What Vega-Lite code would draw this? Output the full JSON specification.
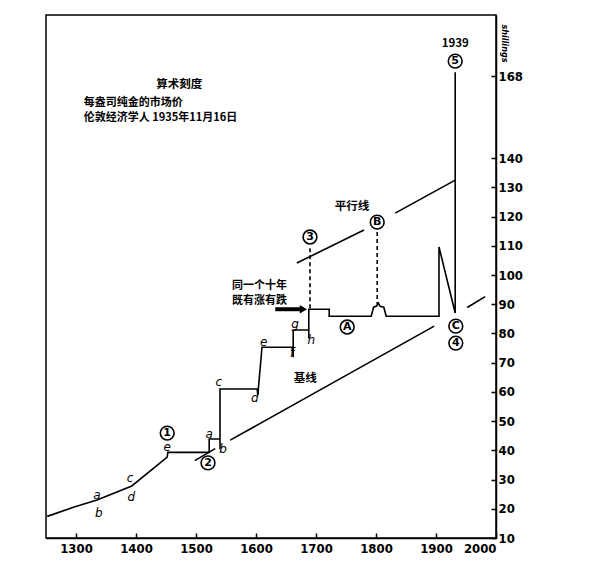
{
  "$schema": "https://vega.github.io/schema/vega-lite/v6.json",
  "width": 450,
  "height": 523,
  "padding": {"left": 44, "top": 15, "right": 5, "bottom": 5},
  "background": "white",
  "config": {
    "view": {"stroke": "black", "strokeWidth": 1.5},
    "axis": {
      "grid": false,
      "domainColor": "black",
      "domainWidth": 1.5,
      "tickColor": "black",
      "tickWidth": 1.5,
      "labelColor": "black",
      "labelFont": "Liberation Sans Narrow, DejaVu Sans Condensed, Liberation Sans",
      "labelFontWeight": "bold",
      "labelFontSize": 13
    }
  },
  "datasets": {
    "main": [
      {"i": 1, "year": 1252, "v": 17.4},
      {"i": 2, "year": 1297, "v": 20.6},
      {"i": 3, "year": 1335, "v": 23.0},
      {"i": 4, "year": 1393, "v": 27.8},
      {"i": 5, "year": 1452, "v": 37.7},
      {"i": 6, "year": 1453, "v": 39.3},
      {"i": 7, "year": 1522, "v": 39.3},
      {"i": 8, "year": 1522, "v": 43.9},
      {"i": 9, "year": 1540, "v": 43.9},
      {"i": 10, "year": 1540, "v": 40.4},
      {"i": 11, "year": 1540, "v": 61.0},
      {"i": 12, "year": 1602, "v": 61.0},
      {"i": 13, "year": 1603, "v": 58.9},
      {"i": 14, "year": 1610, "v": 75.3},
      {"i": 15, "year": 1660, "v": 75.3},
      {"i": 16, "year": 1662, "v": 71.9},
      {"i": 17, "year": 1662, "v": 81.2},
      {"i": 18, "year": 1688, "v": 81.2},
      {"i": 19, "year": 1688, "v": 78.4},
      {"i": 20, "year": 1688, "v": 88.3},
      {"i": 21, "year": 1722, "v": 88.3},
      {"i": 22, "year": 1722, "v": 85.9},
      {"i": 23, "year": 1792, "v": 85.9},
      {"i": 24, "year": 1796, "v": 89.0},
      {"i": 25, "year": 1801, "v": 89.4},
      {"i": 26, "year": 1804, "v": 90.4},
      {"i": 27, "year": 1807, "v": 89.3},
      {"i": 28, "year": 1813, "v": 89.0},
      {"i": 29, "year": 1817, "v": 85.9},
      {"i": 30, "year": 1905, "v": 85.9},
      {"i": 31, "year": 1905, "v": 109.6},
      {"i": 32, "year": 1932, "v": 87.0},
      {"i": 33, "year": 1932, "v": 169.4}
    ],
    "segments": [
      {"seg": "base1", "year": 1498, "v": 36.5, "year2": 1532, "v2": 40.6},
      {"seg": "base2", "year": 1557, "v": 43.5, "year2": 1897, "v2": 82.5},
      {"seg": "base3", "year": 1952, "v": 88.9, "year2": 1982, "v2": 92.6},
      {"seg": "par1", "year": 1668, "v": 104.1, "year2": 1780, "v2": 115.4},
      {"seg": "par2", "year": 1832, "v": 121.2, "year2": 1932, "v2": 132.5}
    ],
    "dashes": [
      {"year": 1690, "v": 109.2, "v2": 88.3},
      {"year": 1802, "v": 114.7, "v2": 90.0}
    ],
    "circles": [
      {"year": 1452, "v": 45.9, "t": "1"},
      {"year": 1520, "v": 35.7, "t": "2"},
      {"year": 1690, "v": 113.0, "t": "3"},
      {"year": 1933, "v": 76.7, "t": "4"},
      {"year": 1932, "v": 173.2, "t": "5"},
      {"year": 1752, "v": 82.2, "t": "A"},
      {"year": 1802, "v": 118.1, "t": "B"},
      {"year": 1933, "v": 82.5, "t": "C"}
    ],
    "letters": [
      {"year": 1335, "v": 24.7, "t": "a"},
      {"year": 1338, "v": 18.6, "t": "b"},
      {"year": 1390, "v": 30.5, "t": "c"},
      {"year": 1392, "v": 24.0, "t": "d"},
      {"year": 1452, "v": 41.1, "t": "e"},
      {"year": 1522, "v": 45.6, "t": "a"},
      {"year": 1545, "v": 40.4, "t": "b"},
      {"year": 1538, "v": 63.4, "t": "c"},
      {"year": 1598, "v": 57.9, "t": "d"},
      {"year": 1613, "v": 77.1, "t": "e"},
      {"year": 1660, "v": 73.3, "t": "f"},
      {"year": 1665, "v": 83.2, "t": "g"},
      {"year": 1692, "v": 77.7, "t": "h"}
    ],
    "notesCenter": [
      {"year": 1472, "v": 165.0, "t": "算术刻度"},
      {"year": 1760, "v": 123.2, "t": "平行线"},
      {"year": 1682, "v": 64.4, "t": "基线"},
      {"year": 1932, "v": 179.0, "t": "1939"}
    ],
    "notesLeft": [
      {"year": 1313, "v": 159.0, "t": "每盎司纯金的市场价"},
      {"year": 1313, "v": 153.6, "t": "伦敦经济学人 1935年11月16日"},
      {"year": 1560, "v": 96.4, "t": "同一个十年"},
      {"year": 1560, "v": 91.1, "t": "既有涨有跌"}
    ],
    "arrow": [
      {"year": 1632, "v": 88.3, "year2": 1674}
    ],
    "arrowHead": [
      {"year": 1679, "v": 88.3}
    ]
  },
  "encoding": {
    "x": {
      "field": "year",
      "type": "quantitative",
      "scale": {"domain": [1250, 2000], "nice": false, "zero": false},
      "axis": {
        "title": null,
        "values": [1300, 1400, 1500, 1600, 1700, 1800, 1900, 2000],
        "format": "d",
        "tickSize": -5,
        "labelPadding": 9,
        "labelFlush": true
      }
    },
    "y": {
      "field": "v",
      "type": "quantitative",
      "scale": {"domain": [10, 189], "nice": false, "zero": false},
      "axis": {
        "orient": "right",
        "title": "shillings",
        "titleFont": "DejaVu Sans Condensed, DejaVu Sans",
        "titleFontSize": 9,
        "titleFontWeight": "bold",
        "titleFontStyle": "italic",
        "titleAngle": 90,
        "titleX": 8,
        "titleY": 28,
        "titleBaseline": "middle",
        "titleAlign": "center",
        "values": [10, 20, 30, 40, 50, 60, 70, 80, 90, 100, 110, 120, 130, 140, 168],
        "tickSize": -5,
        "labelPadding": 7
      }
    }
  },
  "layer": [
    {
      "data": {"name": "main"},
      "mark": {"type": "line", "color": "black", "strokeWidth": 1.6},
      "encoding": {"order": {"field": "i", "type": "quantitative"}}
    },
    {
      "data": {"name": "segments"},
      "mark": {"type": "rule", "color": "black", "strokeWidth": 1.6},
      "encoding": {
        "x2": {"field": "year2"},
        "y2": {"field": "v2"}
      }
    },
    {
      "data": {"name": "dashes"},
      "mark": {"type": "rule", "color": "black", "strokeWidth": 1.6, "strokeDash": [4, 3]},
      "encoding": {"y2": {"field": "v2"}}
    },
    {
      "data": {"name": "arrow"},
      "mark": {"type": "rule", "color": "black", "strokeWidth": 4},
      "encoding": {"x2": {"field": "year2"}}
    },
    {
      "data": {"name": "arrowHead"},
      "mark": {"type": "point", "shape": "triangle-right", "filled": true, "color": "black", "size": 70, "opacity": 1}
    },
    {
      "data": {"name": "circles"},
      "mark": {"type": "point", "shape": "circle", "filled": false, "color": "black", "strokeWidth": 1.6, "size": 190, "opacity": 1}
    },
    {
      "data": {"name": "circles"},
      "mark": {"type": "text", "font": "DejaVu Sans", "fontWeight": "bold", "fontSize": 11, "align": "center", "baseline": "middle", "color": "black"},
      "encoding": {"text": {"field": "t"}}
    },
    {
      "data": {"name": "letters"},
      "mark": {"type": "text", "font": "DejaVu Sans", "fontStyle": "italic", "fontSize": 12, "align": "center", "baseline": "middle", "color": "black"},
      "encoding": {"text": {"field": "t"}}
    },
    {
      "data": {"name": "notesCenter"},
      "mark": {"type": "text", "font": "Noto Sans CJK SC", "fontWeight": "bold", "fontSize": 11.5, "align": "center", "baseline": "middle", "color": "black"},
      "encoding": {"text": {"field": "t"}}
    },
    {
      "data": {"name": "notesLeft"},
      "mark": {"type": "text", "font": "Noto Sans CJK SC", "fontWeight": "bold", "fontSize": 11, "align": "left", "baseline": "middle", "color": "black"},
      "encoding": {"text": {"field": "t"}}
    }
  ]
}
